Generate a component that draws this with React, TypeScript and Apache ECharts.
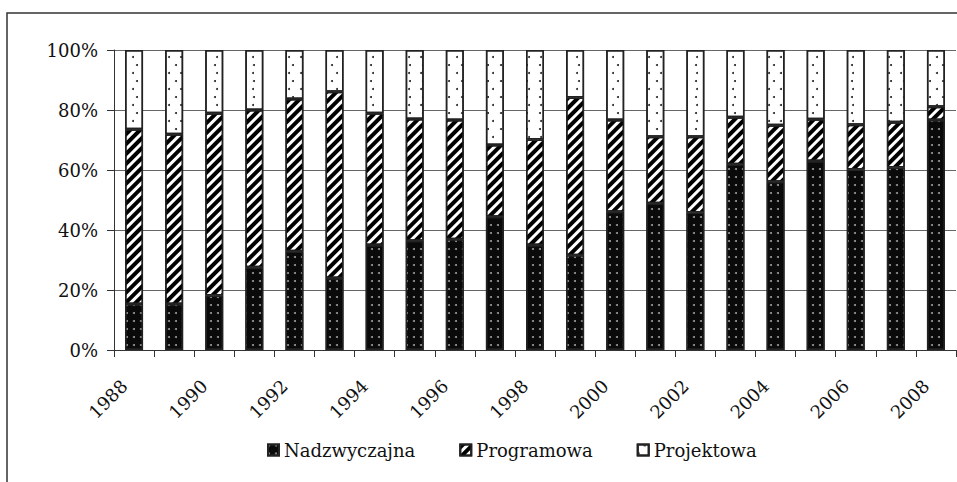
import React, { useEffect, useRef } from "react";
import * as echarts from "echarts";

const years = [
  "1988", "1989", "1990", "1991", "1992", "1993", "1994", "1995", "1996", "1997", "1998",
  "1999", "2000", "2001", "2002", "2003", "2004", "2005", "2006", "2007", "2008",
];
const nadzwyczajna = [15.3, 15.3, 18.2, 27.6, 32.9, 24.0, 35.0, 36.4, 36.9, 44.4, 35.0, 31.6, 46.1, 48.9, 45.8, 61.9, 56.1, 63.0, 60.2, 60.8, 76.7];
const programowa = [58.3, 56.6, 60.7, 52.4, 50.8, 62.1, 43.9, 40.6, 39.8, 23.9, 35.2, 52.6, 30.6, 22.2, 25.3, 15.7, 18.8, 13.9, 14.9, 15.1, 4.4];
const projektowa = [26.4, 28.1, 21.1, 20.0, 16.3, 13.9, 21.1, 23.0, 23.3, 31.7, 29.8, 15.8, 23.3, 28.9, 28.9, 22.4, 25.1, 23.1, 24.9, 24.1, 18.9];
const seriesNames = ["Nadzwyczajna", "Programowa", "Projektowa"];

const FONT = "DejaVu Serif";
const FS = 18;

export default function App() {
  const ref = useRef<HTMLDivElement>(null);
  useEffect(() => {
    if (!ref.current) return;
    const chart = echarts.init(ref.current, null, { renderer: "svg" });
    const border = { borderColor: "#222", borderWidth: 1.5 };
    chart.setOption({
      animation: false,
      backgroundColor: "#fff",
      textStyle: { fontFamily: FONT },
      graphic: [
        {
          type: "rect",
          shape: { x: 7, y: 13, width: 1000, height: 1000 },
          style: { fill: "none", stroke: "#333", lineWidth: 1.5 },
          silent: true,
        },
      ],
      grid: { left: 114, right: 1, top: 50, bottom: 132 },
      legend: {
        data: seriesNames,
        left: 262,
        top: 436,
        itemWidth: 11,
        itemHeight: 11,
        itemGap: 44,
        icon: "rect",
        textStyle: { fontFamily: FONT, fontSize: FS, color: "#111" },
      },
      xAxis: {
        type: "category",
        data: years,
        boundaryGap: true,
        axisLine: { lineStyle: { color: "#333", width: 1 } },
        axisTick: { show: true, interval: 0, length: 7, lineStyle: { color: "#333" } },
        axisLabel: {
          interval: 1,
          rotate: 45,
          margin: 23,
          padding: [0, 14, 0, 0],
          fontFamily: FONT,
          fontSize: FS,
          color: "#111",
        },
      },
      yAxis: {
        type: "value",
        min: 0,
        max: 100,
        interval: 20,
        axisLine: { show: true, lineStyle: { color: "#333", width: 1 } },
        axisTick: { show: true, length: 7, lineStyle: { color: "#333" } },
        axisLabel: {
          formatter: "{value}%",
          margin: 16,
          fontFamily: FONT,
          fontSize: FS,
          color: "#111",
        },
        splitLine: { show: true, lineStyle: { color: "#666", width: 1 } },
      },
      series: [
        {
          name: seriesNames[0],
          type: "bar",
          stack: "s",
          barWidth: 18,
          data: nadzwyczajna,
          itemStyle: {
            color: "#0a0a0a",
            ...border,
            decal: {
              symbol: "circle",
              symbolSize: 1,
              color: "#9a9a9a",
              dashArrayX: [[1.6, 5]],
              dashArrayY: [1.6, 5.4],
            },
          },
        },
        {
          name: seriesNames[1],
          type: "bar",
          stack: "s",
          barWidth: 18,
          data: programowa,
          itemStyle: {
            color: "#ffffff",
            ...border,
            decal: {
              symbol: "rect",
              symbolSize: 1,
              color: "#000",
              dashArrayX: [[1, 0]],
              dashArrayY: [4, 3],
              rotation: -Math.PI / 4,
            },
          },
        },
        {
          name: seriesNames[2],
          type: "bar",
          stack: "s",
          barWidth: 18,
          data: projektowa,
          itemStyle: {
            color: "#ffffff",
            ...border,
            decal: {
              symbol: "circle",
              symbolSize: 1,
              color: "#222",
              dashArrayX: [[1.6, 10], [0, 5.8, 1.6, 4.2]],
              dashArrayY: [1.6, 5.5],
            },
          },
        },
      ],
    });
    return () => chart.dispose();
  }, []);
  return (
    <div
      ref={ref}
      style={{ position: "fixed", left: 0, top: 0, width: 957, height: 482, background: "#fff" }}
    />
  );
}
